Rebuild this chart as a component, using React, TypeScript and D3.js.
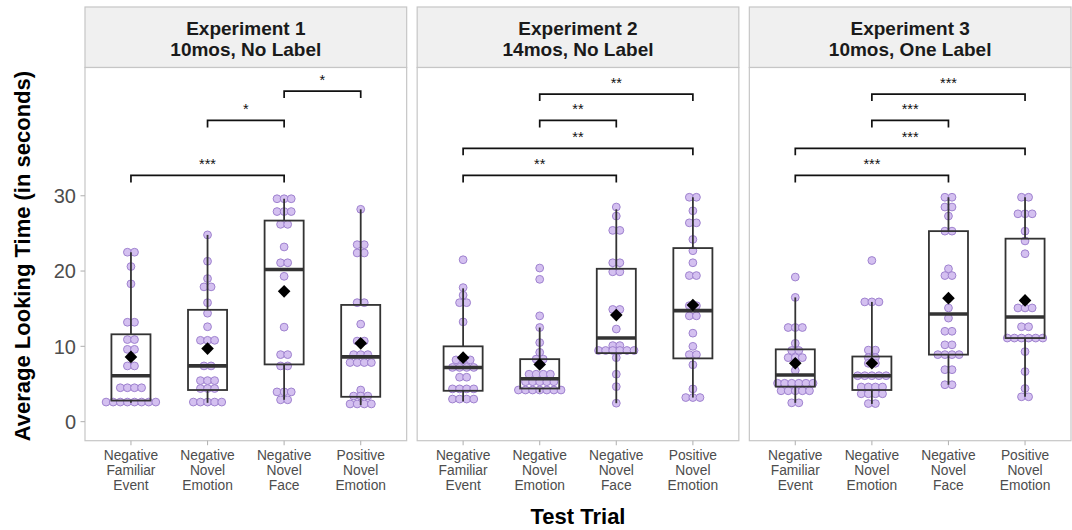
import React from "react";
import * as d3 from "d3";

// ---------- data ----------
const categories = ["NFE", "NNE", "NNF", "PNE"];
const tickLabels = [
  ["Negative", "Familiar", "Event"],
  ["Negative", "Novel", "Emotion"],
  ["Negative", "Novel", "Face"],
  ["Positive", "Novel", "Emotion"],
];
const panelTitles = [
  ["Experiment 1", "10mos, No Label"],
  ["Experiment 2", "14mos, No Label"],
  ["Experiment 3", "10mos, One Label"],
];
const yTicks = [0, 10, 20, 30];

// box statistics per experiment (per category)
const whiskLo = [
  [2.5, 2.5, 2.9, 2.2],
  [2.7, 3.9, 2.45, 3.2],
  [2.5, 2.35, 4.9, 3.3],
];
const q1 = [
  [2.8, 4.2, 7.6, 3.3],
  [4.1, 4.4, 9.1, 8.4],
  [4.65, 4.2, 8.9, 11.1],
];
const median = [
  [6.1, 7.4, 20.2, 8.6],
  [7.2, 5.7, 11.1, 14.75],
  [6.2, 6.1, 14.3, 13.9],
];
const q3 = [
  [11.6, 14.85, 26.7, 15.5],
  [10.0, 8.3, 20.3, 23.05],
  [9.6, 8.65, 25.3, 24.3],
];
const whiskHi = [
  [22.5, 24.8, 29.6, 28.2],
  [17.7, 12.5, 28.2, 29.8],
  [16.5, 15.9, 29.8, 29.8],
];
const means = [
  [8.6, 9.7, 17.3, 10.4],
  [8.5, 7.6, 14.15, 15.5],
  [7.75, 7.75, 16.4, 16.1],
];

// individual looking times (equal values stack side by side)
const exp1Points = [
  [22.5, 22.5, 20.6, 18.3, 13.2, 13.2, 10.9, 10.9, 9.6, 9.6, 7.4, 7.4, 4.5, 4.5, 4.5, 4.5, 2.6, 2.6, 2.6, 2.6, 2.6, 2.6, 2.6, 2.6],
  [24.8, 21.3, 19.0, 17.9, 17.9, 15.8, 14.4, 12.6, 10.8, 10.8, 10.8, 7.4, 7.4, 5.45, 5.45, 5.45, 4.4, 4.4, 4.4, 2.6, 2.6, 2.6, 2.6, 2.6],
  [29.6, 29.6, 29.6, 27.9, 27.9, 27.9, 26.2, 26.2, 23.2, 21.1, 21.1, 19.3, 12.55, 8.9, 8.9, 7.4, 7.4, 3.95, 3.95, 3.95, 2.9, 2.9],
  [28.2, 23.5, 23.5, 22.4, 22.4, 15.8, 15.8, 12.95, 10.7, 10.7, 8.9, 8.9, 8.9, 7.85, 7.85, 7.85, 7.85, 4.2, 3.4, 3.4, 3.4, 2.35, 2.35, 2.35, 2.35],
];
const exp2Points = [
  [21.5, 17.8, 16.8, 15.8, 15.8, 13.25, 8.2, 8.2, 8.2, 7.2, 7.2, 7.2, 7.2, 5.9, 5.9, 4.35, 4.35, 4.35, 4.35, 3.0, 3.0, 3.0, 3.0],
  [20.4, 18.9, 14.05, 12.5, 10.5, 9.2, 8.3, 8.3, 6.3, 6.3, 6.3, 6.3, 5.3, 5.3, 5.3, 5.3, 5.3, 4.2, 4.2, 4.2, 4.2, 4.2, 4.2, 4.2],
  [28.5, 27.3, 25.4, 25.4, 21.1, 21.1, 19.9, 19.9, 14.9, 14.9, 12.3, 10.1, 10.1, 9.45, 9.45, 9.45, 9.45, 9.45, 9.45, 8.5, 6.3, 4.65, 2.45],
  [29.8, 29.8, 28.0, 26.4, 26.4, 24.2, 22.7, 21.1, 19.4, 19.4, 15.4, 15.4, 14.05, 14.05, 11.75, 10.0, 8.9, 8.9, 7.55, 4.35, 3.2, 3.2, 3.2],
];
const exp3Points = [
  [19.2, 16.5, 12.5, 12.5, 12.5, 10.4, 9.45, 9.45, 8.5, 8.5, 8.5, 6.8, 5.1, 5.1, 5.1, 5.1, 5.1, 5.1, 4.1, 4.1, 4.1, 4.1, 4.1, 2.5, 2.5],
  [21.4, 15.9, 15.9, 15.9, 9.5, 9.5, 8.5, 8.5, 7.75, 7.75, 6.1, 6.1, 6.1, 6.1, 6.1, 4.6, 4.6, 4.6, 4.6, 3.7, 3.7, 3.7, 3.7, 2.4, 2.4],
  [29.8, 29.8, 28.5, 28.5, 27.3, 25.3, 25.3, 20.3, 19.4, 19.4, 15.1, 13.75, 12.0, 12.0, 10.2, 10.2, 8.9, 8.9, 8.9, 8.9, 6.9, 6.9, 4.9, 4.9],
  [29.8, 29.8, 27.6, 27.6, 27.6, 25.3, 24.0, 22.3, 15.1, 15.1, 15.1, 12.6, 12.6, 11.1, 11.1, 11.1, 11.1, 11.1, 11.1, 9.3, 6.65, 4.4, 3.3, 3.3],
];
const allPoints = [exp1Points, exp2Points, exp3Points];

// significance brackets: [fromIndex, toIndex, yValue, label]
const exp1Brackets: [number, number, number, string][] = [
  [0, 2, 32.7, "***"],
  [1, 2, 40.0, "*"],
  [2, 3, 43.9, "*"],
];
const exp2Brackets: [number, number, number, string][] = [
  [0, 2, 32.7, "**"],
  [0, 3, 36.3, "**"],
  [1, 2, 40.0, "**"],
  [1, 3, 43.5, "**"],
];
const exp3Brackets: [number, number, number, string][] = [
  [0, 2, 32.7, "***"],
  [0, 3, 36.3, "***"],
  [1, 2, 40.0, "***"],
  [1, 3, 43.5, "***"],
];
const allBrackets = [exp1Brackets, exp2Brackets, exp3Brackets];

// ---------- layout ----------
const W = 1072;
const H = 530;
const plotLeft = 85;
const plotRight = 1071;
const gap = 10.5;
const panelW = (plotRight - plotLeft - 2 * gap) / 3;
const headerTop = 7;
const plotTop = 67.5;
const plotBottom = 440.7;
const FONT = "'Liberation Sans', Arial, Helvetica, sans-serif";

const y = d3.scaleLinear().domain([-2.53, 47.03]).range([plotBottom, plotTop]);

const dotR = 3.9;
const dotStep = 7.1;

function Panel({ p }: { p: number }) {
  const x0 = plotLeft + p * (panelW + gap);
  const x = d3.scalePoint<string>().domain(categories).range([x0, x0 + panelW]).padding(0.6);
  const step = x.step();
  const boxW = step * 0.51;

  const dots: React.ReactNode[] = [];
  categories.forEach((c, ci) => {
    const vals = allPoints[p][ci];
    const groups = d3.group(vals, (v) => v);
    groups.forEach((arr, v) => {
      const n = arr.length;
      arr.forEach((_, k) => {
        const cx = (x(c) as number) + (k - (n - 1) / 2) * dotStep;
        dots.push(
          <circle
            key={`${ci}-${v}-${k}`}
            cx={cx}
            cy={y(v)}
            r={dotR}
            fill="#d4c0f0"
            stroke="#9f82cf"
            strokeWidth={1}
          />
        );
      });
    });
  });

  const tickLen = 7;
  return (
    <g>
      {/* header strip */}
      <rect x={x0} y={headerTop} width={panelW} height={plotTop - headerTop} fill="#f0f0f0" stroke="#c6c6c6" strokeWidth={1.2} />
      <text x={x0 + panelW / 2} y={35} textAnchor="middle" fontFamily={FONT} fontWeight="bold" fontSize={19} fill="#1a1a1a">
        {panelTitles[p][0]}
      </text>
      <text x={x0 + panelW / 2} y={55.5} textAnchor="middle" fontFamily={FONT} fontWeight="bold" fontSize={19} fill="#1a1a1a">
        {panelTitles[p][1]}
      </text>
      {/* panel */}
      <rect x={x0} y={plotTop} width={panelW} height={plotBottom - plotTop} fill="#ffffff" stroke="#c6c6c6" strokeWidth={1.2} />
      {dots}
      {categories.map((c, ci) => {
        const cx = x(c) as number;
        return (
          <g key={c} stroke="#333333" fill="none">
            <line x1={cx} x2={cx} y1={y(q3[p][ci])} y2={y(whiskHi[p][ci])} strokeWidth={1.8} />
            <line x1={cx} x2={cx} y1={y(q1[p][ci])} y2={y(whiskLo[p][ci])} strokeWidth={1.8} />
            <rect x={cx - boxW / 2} y={y(q3[p][ci])} width={boxW} height={y(q1[p][ci]) - y(q3[p][ci])} strokeWidth={1.8} />
            <line x1={cx - boxW / 2} x2={cx + boxW / 2} y1={y(median[p][ci])} y2={y(median[p][ci])} strokeWidth={3.6} />
          </g>
        );
      })}
      {categories.map((c, ci) => {
        const cx = x(c) as number;
        const cy = y(means[p][ci]);
        const s = 6.3;
        return <path key={"m" + c} d={`M${cx},${cy - s}L${cx + s},${cy}L${cx},${cy + s}L${cx - s},${cy}Z`} fill="#000" />;
      })}
      {allBrackets[p].map(([a, b, v, lab], i) => {
        const xa = x(categories[a]) as number;
        const xb = x(categories[b]) as number;
        const yy = y(v);
        return (
          <g key={"b" + i}>
            <path d={`M${xa},${yy + tickLen}L${xa},${yy}L${xb},${yy}L${xb},${yy + tickLen}`} fill="none" stroke="#111" strokeWidth={1.7} />
            <text x={(xa + xb) / 2} y={yy - 6} textAnchor="middle" fontFamily={FONT} fontSize={14.5} fill="#111">
              {lab}
            </text>
          </g>
        );
      })}
      {/* x ticks */}
      {categories.map((c, ci) => {
        const cx = x(c) as number;
        return (
          <g key={"t" + c}>
            <line x1={cx} x2={cx} y1={plotBottom} y2={plotBottom + 4.5} stroke="#b5b5b5" strokeWidth={1.1} />
            {tickLabels[ci].map((line, li) => (
              <text key={li} x={cx} y={460 + li * 15.2} textAnchor="middle" fontFamily={FONT} fontSize={13.8} fill="#4d4d4d">
                {line}
              </text>
            ))}
          </g>
        );
      })}
    </g>
  );
}

export default function App() {
  return (
    <svg width={W} height={H} style={{ position: "absolute", left: 0, top: 0, background: "#fff" }}>
      <rect x={0} y={0} width={W} height={H} fill="#fff" />
      {[0, 1, 2].map((p) => (
        <Panel key={p} p={p} />
      ))}
      {/* y axis ticks */}
      {yTicks.map((t) => (
        <g key={t}>
          <line x1={plotLeft - 4.5} x2={plotLeft} y1={y(t)} y2={y(t)} stroke="#b5b5b5" strokeWidth={1.1} />
          <text x={plotLeft - 9} y={y(t)} dy="0.36em" textAnchor="end" fontFamily={FONT} fontSize={20} fill="#4d4d4d">
            {t}
          </text>
        </g>
      ))}
      <text
        transform={`translate(30,${(plotTop + plotBottom) / 2 + 2}) rotate(-90)`}
        textAnchor="middle"
        fontFamily={FONT}
        fontWeight="bold"
        fontSize={22}
        fill="#000"
      >
        Average Looking Time (in seconds)
      </text>
      <text x={(plotLeft + plotRight) / 2} y={524} textAnchor="middle" fontFamily={FONT} fontWeight="bold" fontSize={22} fill="#000">
        Test Trial
      </text>
    </svg>
  );
}
